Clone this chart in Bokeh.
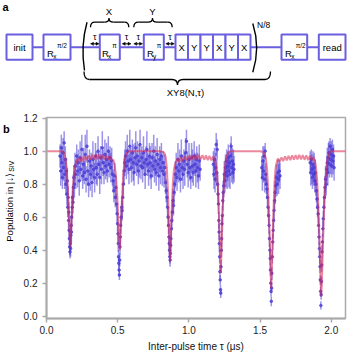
import math
import numpy as np
from bokeh.plotting import figure
from bokeh.layouts import column, row
from bokeh.models import Range1d, Arrow, NormalHead, FixedTicker, PrintfTickFormatter
from bokeh.core.properties import value
from bokeh.embed import file_html
from bokeh.resources import INLINE

# ---------------- data ----------------
x_ticks = [0.0, 0.5, 1.0, 1.5, 2.0]
y_ticks = [0.0, 0.2, 0.4, 0.6, 0.8, 1.0, 1.2]

# measured points, region around dips 1 and 2
tau_r1 = [0.095, 0.100, 0.104, 0.108, 0.112, 0.116, 0.120, 0.124, 0.128, 0.132, 0.136, 0.140,
          0.143, 0.146, 0.149, 0.152, 0.155, 0.157, 0.159, 0.161, 0.163, 0.165,
          0.167, 0.169, 0.171, 0.173, 0.175, 0.177, 0.180, 0.183, 0.186, 0.189, 0.192, 0.196,
          0.200, 0.206, 0.212, 0.218, 0.224, 0.230, 0.236, 0.242, 0.248, 0.254,
          0.260, 0.266, 0.272, 0.278, 0.284, 0.290, 0.296, 0.302, 0.308, 0.314,
          0.320, 0.326, 0.332, 0.338, 0.344, 0.350, 0.356, 0.362, 0.368, 0.374,
          0.380, 0.386, 0.392, 0.398, 0.404, 0.410, 0.416, 0.422, 0.428, 0.434,
          0.440, 0.446, 0.452, 0.458, 0.463,
          0.468, 0.473, 0.478, 0.483, 0.488, 0.492, 0.496, 0.499, 0.502, 0.504,
          0.506, 0.508, 0.510, 0.512, 0.514, 0.516, 0.518, 0.521, 0.524, 0.528,
          0.532, 0.536, 0.540, 0.545, 0.550, 0.555]
pop_r1 = [0.97, 0.88, 1.02, 0.93, 0.84, 0.99, 0.90, 1.05, 0.86, 0.95, 0.80, 0.88,
          0.74, 0.82, 0.66, 0.72, 0.58, 0.63, 0.52, 0.47, 0.42, 0.39,
          0.44, 0.41, 0.49, 0.55, 0.51, 0.60, 0.66, 0.72, 0.69, 0.78, 0.84, 0.80,
          0.91, 0.86, 0.97, 0.88, 0.93, 0.82, 0.96, 0.89, 1.01, 0.85,
          0.92, 0.87, 0.98, 0.83, 1.03, 0.88, 0.80, 0.94, 0.86, 0.91,
          0.81, 0.95, 0.89, 0.84, 0.97, 0.90, 0.86, 1.00, 0.92, 0.84,
          0.96, 0.89, 1.02, 0.93, 0.87, 0.98, 0.91, 0.95, 0.88, 1.00,
          0.92, 0.96, 0.90, 0.94, 0.86,
          0.82, 0.76, 0.85, 0.72, 0.78, 0.68, 0.62, 0.56, 0.50, 0.44,
          0.36, 0.32, 0.28, 0.25, 0.34, 0.42, 0.48, 0.55, 0.60, 0.66,
          0.64, 0.72, 0.80, 0.88, 0.93, 0.97]
err_r1 = [0.07, 0.09, 0.08, 0.10, 0.07, 0.09, 0.08, 0.07, 0.09, 0.08, 0.07, 0.08,
          0.07, 0.08, 0.06, 0.07, 0.06, 0.06, 0.05, 0.05, 0.05, 0.04,
          0.05, 0.05, 0.05, 0.06, 0.06, 0.06, 0.07, 0.07, 0.07, 0.08, 0.07, 0.08,
          0.08, 0.09, 0.07, 0.10, 0.08, 0.09, 0.10, 0.07, 0.09, 0.08,
          0.10, 0.07, 0.12, 0.08, 0.10, 0.09, 0.08, 0.07, 0.10, 0.08,
          0.09, 0.11, 0.07, 0.09, 0.08, 0.10, 0.07, 0.09, 0.08, 0.10,
          0.07, 0.09, 0.10, 0.08, 0.07, 0.09, 0.08, 0.10, 0.07, 0.09,
          0.08, 0.07, 0.09, 0.08, 0.07,
          0.07, 0.07, 0.08, 0.06, 0.07, 0.06, 0.06, 0.05, 0.05, 0.05,
          0.04, 0.04, 0.04, 0.03, 0.04, 0.05, 0.05, 0.05, 0.06, 0.06,
          0.06, 0.07, 0.07, 0.08, 0.08, 0.09]

# region around dip 3
tau_r2 = [0.561, 0.567, 0.573, 0.579, 0.585, 0.591, 0.597, 0.603, 0.609, 0.615,
          0.621, 0.627, 0.633, 0.639, 0.645, 0.651, 0.657, 0.663, 0.669, 0.675,
          0.681, 0.687, 0.693, 0.699, 0.705, 0.711, 0.717, 0.723, 0.729, 0.735,
          0.741, 0.747, 0.753, 0.759, 0.765, 0.771, 0.777, 0.783, 0.789, 0.795,
          0.801, 0.807, 0.813, 0.819, 0.825,
          0.831, 0.836, 0.841, 0.846, 0.850, 0.854, 0.857, 0.860, 0.862, 0.864,
          0.866, 0.868, 0.870, 0.872, 0.874, 0.877, 0.880, 0.884, 0.888, 0.892,
          0.896, 0.900, 0.905,
          0.911, 0.917, 0.923, 0.929, 0.935, 0.941, 0.947, 0.953, 0.959, 0.965,
          0.971, 0.977, 0.983, 0.989, 0.995, 1.001, 1.007, 1.013, 1.019, 1.025,
          1.031, 1.037, 1.043, 1.049, 1.055, 1.061, 1.067, 1.073, 1.079]
pop_r2 = [0.91, 1.00, 0.94, 0.89, 1.03, 0.95, 0.90, 0.99, 0.93, 0.87,
          0.96, 1.02, 0.92, 0.97, 0.88, 0.94, 1.04, 0.91, 0.96, 0.90,
          0.99, 0.93, 0.86, 0.95, 1.01, 0.92, 0.88, 0.97, 0.93, 0.85,
          0.96, 0.91, 1.00, 0.89, 0.94, 0.87, 0.98, 0.92, 0.85, 0.95,
          0.90, 0.97, 0.88, 0.93, 0.86,
          0.90, 0.81, 0.76, 0.72, 0.66, 0.60, 0.55, 0.48, 0.44, 0.40,
          0.36, 0.34, 0.38, 0.43, 0.47, 0.53, 0.58, 0.63, 0.70, 0.67,
          0.75, 0.80, 0.86,
          0.90, 0.84, 0.95, 0.88, 0.92, 0.83, 0.97, 0.90, 0.86, 0.94,
          0.89, 0.99, 1.06, 0.92, 0.87, 0.95, 0.90, 0.84, 0.96, 0.91,
          0.87, 0.97, 0.92, 0.88, 0.95, 0.90, 0.85, 0.94, 0.89]
err_r2 = [0.08, 0.10, 0.08, 0.09, 0.10, 0.07, 0.09, 0.08, 0.11, 0.08,
          0.09, 0.10, 0.07, 0.09, 0.08, 0.10, 0.09, 0.08, 0.07, 0.09,
          0.10, 0.08, 0.09, 0.08, 0.11, 0.07, 0.09, 0.08, 0.10, 0.08,
          0.09, 0.07, 0.10, 0.08, 0.09, 0.08, 0.10, 0.07, 0.09, 0.08,
          0.10, 0.08, 0.09, 0.07, 0.08,
          0.08, 0.07, 0.07, 0.06, 0.06, 0.06, 0.05, 0.05, 0.05, 0.04,
          0.04, 0.04, 0.04, 0.05, 0.05, 0.05, 0.06, 0.06, 0.07, 0.06,
          0.07, 0.07, 0.08,
          0.09, 0.08, 0.10, 0.07, 0.09, 0.08, 0.10, 0.08, 0.09, 0.07,
          0.10, 0.09, 0.07, 0.08, 0.09, 0.10, 0.08, 0.07, 0.09, 0.10,
          0.08, 0.09, 0.07, 0.10, 0.08, 0.09, 0.08, 0.10, 0.07]

# region around dip 4
tau_r3 = [1.172, 1.176, 1.180, 1.184, 1.188, 1.192, 1.196, 1.199, 1.202, 1.205,
          1.208, 1.210, 1.212, 1.214, 1.216, 1.218, 1.220, 1.222, 1.224, 1.226,
          1.228, 1.230, 1.232, 1.235, 1.238, 1.241, 1.245, 1.249, 1.253, 1.257,
          1.261, 1.265, 1.269, 1.273, 1.277, 1.281, 1.285, 1.289, 1.293, 1.297,
          1.301, 1.305, 1.309, 1.313, 1.317]
pop_r3 = [0.92, 0.86, 0.95, 0.83, 0.90, 1.04, 0.87, 1.01, 0.80, 0.74,
          0.68, 0.58, 0.51, 0.44, 0.36, 0.27, 0.22, 0.16, 0.14, 0.30,
          0.40, 0.47, 0.56, 0.61, 0.70, 0.75, 0.79, 0.86, 0.82, 0.90,
          0.87, 0.94, 0.85, 0.91, 0.96, 0.88, 0.93, 0.86, 0.97, 1.03,
          0.90, 0.94, 0.87, 0.92, 0.89]
err_r3 = [0.08, 0.09, 0.07, 0.08, 0.09, 0.07, 0.08, 0.06, 0.07, 0.06,
          0.06, 0.05, 0.05, 0.05, 0.04, 0.04, 0.03, 0.03, 0.03, 0.04,
          0.04, 0.05, 0.05, 0.06, 0.06, 0.07, 0.07, 0.08, 0.07, 0.08,
          0.09, 0.07, 0.08, 0.09, 0.08, 0.10, 0.07, 0.09, 0.08, 0.06,
          0.09, 0.08, 0.07, 0.09, 0.08]

# region around dip 5
tau_r4 = [1.512, 1.516, 1.520, 1.524, 1.528, 1.532, 1.536, 1.540, 1.544, 1.548,
          1.552, 1.556, 1.560, 1.563, 1.566, 1.569, 1.571, 1.573, 1.575, 1.577,
          1.579, 1.581, 1.583, 1.586, 1.589, 1.592, 1.595, 1.598, 1.602, 1.606,
          1.610, 1.615, 1.620, 1.625, 1.630, 1.635, 1.640]
pop_r4 = [0.90, 0.84, 0.94, 0.88, 0.97, 0.83, 1.00, 0.86, 0.80, 0.77,
          0.72, 0.66, 0.61, 0.55, 0.47, 0.40, 0.35, 0.28, 0.20, 0.15,
          0.09, 0.17, 0.26, 0.36, 0.45, 0.52, 0.58, 0.64, 0.70, 0.75,
          0.79, 0.84, 0.80, 0.87, 0.83, 0.88, 0.85]
err_r4 = [0.07, 0.08, 0.09, 0.07, 0.06, 0.08, 0.05, 0.07, 0.06, 0.06,
          0.06, 0.06, 0.05, 0.05, 0.05, 0.04, 0.04, 0.04, 0.03, 0.03,
          0.03, 0.03, 0.04, 0.04, 0.05, 0.05, 0.05, 0.06, 0.06, 0.07,
          0.07, 0.08, 0.07, 0.08, 0.09, 0.07, 0.08]

# region around dip 6
tau_r5 = [1.852, 1.856, 1.860, 1.864, 1.868, 1.872, 1.876, 1.880, 1.884, 1.888,
          1.892, 1.896, 1.900, 1.904, 1.908, 1.911, 1.914, 1.917, 1.919, 1.921,
          1.923, 1.925, 1.927, 1.929, 1.931, 1.933, 1.935, 1.938, 1.941, 1.944,
          1.948, 1.952, 1.956, 1.960, 1.964, 1.968, 1.972, 1.976, 1.980, 1.984,
          1.988, 1.992, 1.996, 2.000, 2.004, 2.008, 2.012, 2.016, 2.020]
pop_r5 = [0.93, 0.87, 0.95, 0.89, 0.84, 0.92, 0.86, 0.90, 0.82, 0.87,
          0.80, 0.76, 0.71, 0.66, 0.62, 0.55, 0.48, 0.41, 0.36, 0.30,
          0.22, 0.15, 0.065, 0.13, 0.21, 0.31, 0.39, 0.45, 0.53, 0.59,
          0.66, 0.72, 0.78, 0.83, 0.80, 0.89, 0.93, 0.87, 0.96, 0.99,
          0.92, 1.03, 0.95, 0.98, 0.91, 1.01, 0.94, 0.97, 0.90]
err_r5 = [0.07, 0.08, 0.06, 0.09, 0.07, 0.08, 0.07, 0.09, 0.07, 0.08,
          0.07, 0.07, 0.06, 0.06, 0.06, 0.05, 0.05, 0.04, 0.04, 0.04,
          0.03, 0.03, 0.025, 0.03, 0.03, 0.04, 0.04, 0.05, 0.05, 0.05,
          0.06, 0.07, 0.07, 0.08, 0.07, 0.08, 0.09, 0.08, 0.09, 0.07,
          0.08, 0.05, 0.09, 0.08, 0.07, 0.06, 0.08, 0.07, 0.08]

# simulated curve
tau_fit = [0.000, 0.090, 0.110, 0.122, 0.132, 0.142, 0.150, 0.156, 0.161, 0.165,
           0.168, 0.171, 0.175, 0.180, 0.186, 0.193, 0.200, 0.208,
           0.2200, 0.2325, 0.2450, 0.2575, 0.2700, 0.2825, 0.2950, 0.3075, 0.3200, 0.3325,
           0.3450, 0.3575, 0.3700, 0.3825, 0.3950, 0.4075, 0.4200, 0.4325, 0.4450, 0.4575,
           0.468, 0.478, 0.487, 0.495, 0.502, 0.508, 0.512, 0.515, 0.518, 0.522,
           0.527, 0.533, 0.540, 0.548, 0.556, 0.565, 0.580,
           0.800, 0.820, 0.830, 0.838, 0.845, 0.851, 0.856, 0.860, 0.864, 0.868,
           0.872, 0.876, 0.881, 0.887, 0.894, 0.902, 0.910,
           0.9200, 0.9325, 0.9450, 0.9575, 0.9700, 0.9825, 0.9950, 1.0075, 1.0200, 1.0325,
           1.0450, 1.0575, 1.0700, 1.0825, 1.0950, 1.1075, 1.1200, 1.1325, 1.1450, 1.1575, 1.1700,
           1.180, 1.190, 1.198, 1.205, 1.211, 1.216, 1.220, 1.224, 1.228, 1.232,
           1.237, 1.243, 1.250, 1.258, 1.267, 1.278, 1.290,
           1.500, 1.520, 1.530, 1.540, 1.548, 1.555, 1.561, 1.566, 1.570, 1.574,
           1.578, 1.582, 1.586, 1.590, 1.595, 1.601, 1.608, 1.616,
           1.6250, 1.6375, 1.6500, 1.6625, 1.6750, 1.6875, 1.7000, 1.7125, 1.7250, 1.7375,
           1.7500, 1.7625, 1.7750, 1.7875, 1.8000, 1.8125, 1.8250, 1.8375, 1.8500, 1.8625, 1.8750,
           1.884, 1.892, 1.900, 1.907, 1.913, 1.918, 1.922, 1.926, 1.930, 1.934,
           1.938, 1.942, 1.947, 1.953, 1.960, 1.968, 1.977, 1.988, 2.000, 2.100]
pop_fit = [1.0, 1.0, 0.998, 0.99, 0.96, 0.89, 0.78, 0.66, 0.54, 0.45,
           0.42, 0.46, 0.55, 0.67, 0.78, 0.86, 0.91, 0.93,
           0.955, 0.935, 0.965, 0.940, 0.970, 0.945, 0.975, 0.948, 0.978, 0.950,
           0.980, 0.952, 0.980, 0.952, 0.978, 0.950, 0.975, 0.948, 0.970, 0.945,
           0.95, 0.92, 0.86, 0.76, 0.64, 0.52, 0.44, 0.40, 0.44, 0.52,
           0.64, 0.76, 0.87, 0.94, 0.975, 0.99, 1.0,
           1.0, 0.995, 0.985, 0.96, 0.90, 0.80, 0.68, 0.56, 0.43, 0.33,
           0.43, 0.56, 0.68, 0.80, 0.88, 0.92, 0.935,
           0.955, 0.935, 0.962, 0.940, 0.968, 0.944, 0.972, 0.946, 0.975, 0.948,
           0.976, 0.950, 0.977, 0.950, 0.976, 0.948, 0.974, 0.946, 0.972, 0.944, 0.968,
           0.95, 0.92, 0.86, 0.76, 0.62, 0.48, 0.36, 0.26, 0.36, 0.48,
           0.62, 0.76, 0.87, 0.94, 0.975, 0.99, 1.0,
           1.0, 0.995, 0.985, 0.96, 0.90, 0.80, 0.66, 0.52, 0.39, 0.27,
           0.17, 0.27, 0.39, 0.52, 0.66, 0.80, 0.89, 0.93,
           0.955, 0.935, 0.962, 0.940, 0.968, 0.944, 0.972, 0.946, 0.975, 0.948,
           0.976, 0.950, 0.977, 0.950, 0.976, 0.948, 0.974, 0.946, 0.972, 0.944, 0.965,
           0.945, 0.91, 0.84, 0.72, 0.58, 0.44, 0.32, 0.21, 0.12, 0.21,
           0.32, 0.44, 0.58, 0.72, 0.84, 0.92, 0.965, 0.99, 1.0, 1.0]

# ---------------- styling ----------------
FONT = "Liberation Sans"
BLUE = "#4a3cd6"
BOX = "#6a5fe0"
RED = "#dc2850"
GREY = "#aaaaaa"


def txt(fig, xs, ys, texts, size, align="center", baseline="middle", style="normal", angle=0.0):
    fig.text(x=xs, y=ys, text=texts, text_font=value(FONT), text_font_size=size,
             text_align=align, text_baseline=baseline, text_font_style=style,
             text_color="black", angle=angle)


# ---------------- panel a : pulse sequence (drawn in page pixels) ----------------
pa = figure(width=350, height=108, x_range=Range1d(0, 350), y_range=Range1d(108, 0),
            output_backend="svg", toolbar_location=None,
            x_axis_location=None, y_axis_location=None, min_border=0)
pa.outline_line_color = None
pa.grid.visible = False

LY = 46.7
pa.segment(x0=[32], y0=[LY], x1=[318.3], y1=[LY], line_color=BOX, line_width=2)
b_left = [6, 43, 99.3, 143.3, 175, 187.5, 200, 212.5, 225, 237.5, 281, 318.3]
b_right = [32, 70, 119.3, 163.3, 187.5, 200, 212.5, 225, 237.5, 250, 306.7, 345]
pa.quad(left=b_left, right=b_right, top=[34] * len(b_left), bottom=[59.3] * len(b_left),
        fill_color="white", line_color=BOX, line_width=2)

txt(pa, [19, 331.7], [47, 47], ["init", "read"], "9.5px")
txt(pa, [181.25, 193.75, 206.25, 218.75, 231.25, 243.75], [47] * 6,
    ["X", "Y", "Y", "X", "Y", "X"], "9.5px")
txt(pa, [46.5, 101.5, 146.5, 284.5], [53.3] * 4, ["R", "R", "R", "R"], "9.5px",
    align="left", baseline="alphabetic")
txt(pa, [52.8, 107.6, 152.4, 290.8], [56.3] * 4, ["x", "x", "y", "x"], "6.5px",
    align="left", baseline="alphabetic")
txt(pa, [56.5, 111.8, 156.2, 295.3], [44.8] * 4, ["π/2", "π", "π", "π/2"], "6.5px",
    align="left", baseline="alphabetic")

# tau arrows
for x0, x1 in [(90, 98.5), (121.7, 130.5), (133.3, 142), (165.3, 173.8)]:
    pa.add_layout(Arrow(start=NormalHead(size=3, fill_color="black", line_color="black", line_width=0.5),
                        end=NormalHead(size=3, fill_color="black", line_color="black", line_width=0.5),
                        x_start=x0, y_start=43.3, x_end=x1, y_end=43.3,
                        line_color="black", line_width=1))
txt(pa, [94.3, 126.0, 137.7, 169.5], [36.3] * 4, ["τ"] * 4, "9px")


def brace(fig, x0, x1, xc, yend, ymid, ytip, r):
    fig.quadratic(x0=[x0, xc - r, xc, x1 - r], y0=[yend, ymid, ytip, ymid],
                  x1=[x0 + r, xc, xc + r, x1], y1=[ymid, ytip, ymid, yend],
                  cx=[x0, xc, xc, x1], cy=[ymid, ymid, ymid, ymid],
                  line_color="black", line_width=1.3)
    fig.segment(x0=[x0 + r, xc + r], y0=[ymid, ymid], x1=[xc - r, x1 - r], y1=[ymid, ymid],
                line_color="black", line_width=1.3)


brace(pa, 90, 128.3, 108.5, 26.7, 21.7, 17.8, 4.5)
brace(pa, 133.3, 171.7, 152.0, 26.7, 21.7, 17.8, 4.5)
brace(pa, 83.5, 270, 177, 71.0, 79.0, 84.5, 5.5)
txt(pa, [108.3, 152.0], [10.5, 10.5], ["X", "Y"], "9.5px")
txt(pa, [185.0], [92.0], ["XY8(N,τ)"], "9.5px")

pa.quadratic(x0=[86.5, 252.3], y0=[21.7, 23.0], x1=[84.0, 252.3], y1=[70.0, 71.7],
             cx=[80.0, 260.0], cy=[45.0, 47.3], line_color="black", line_width=1.4)
txt(pa, [256.5], [24.0], ["N/8"], "8.5px", align="left")
txt(pa, [2.0], [6.8], ["a"], "11px", align="left", style="bold")

# ---------------- panel b : y label strip ----------------
H_B = 254
pl = figure(width=20, height=H_B, x_range=Range1d(0, 20), y_range=Range1d(0, H_B),
            output_backend="svg", toolbar_location=None,
            x_axis_location=None, y_axis_location=None, min_border=0)
pl.outline_line_color = None
pl.grid.visible = False
# y measured upward from the bottom of the strip (page y = 362 - y)
txt(pl, [2.5], [362 - 122.3], ["b"], "11px", align="left", baseline="alphabetic", style="bold")
txt(pl, [8.5], [362 - 265], ["Population in |↓⟩"], "9.5px", align="left", angle=math.pi / 2)
txt(pl, [11.0], [362 - 176.5], ["SiV"], "7px", align="left", angle=math.pi / 2)

# ---------------- panel b : data ----------------
pb = figure(width=330, height=H_B, x_range=Range1d(0, 2.1), y_range=Range1d(-0.014, 1.204),
            output_backend="svg", toolbar_location=None,
            min_border_left=25, min_border_right=5, min_border_top=9, min_border_bottom=44)
pb.grid.visible = False
pb.outline_line_color = GREY
pb.outline_line_width = 1.5
pb.xaxis.ticker = FixedTicker(ticks=x_ticks)
pb.yaxis.ticker = FixedTicker(ticks=y_ticks)
pb.xaxis.formatter = PrintfTickFormatter(format="%.1f")
pb.yaxis.formatter = PrintfTickFormatter(format="%.1f")
pb.axis.axis_line_color = GREY
pb.axis.axis_line_width = 2
pb.axis.major_tick_line_color = GREY
pb.axis.major_tick_line_width = 1.5
pb.axis.major_tick_out = 4
pb.axis.major_tick_in = 0
pb.axis.minor_tick_line_color = None
pb.axis.major_label_text_font = FONT
pb.axis.major_label_text_font_size = "10px"
pb.axis.major_label_text_color = "#222222"
pb.xaxis.major_label_standoff = 3
pb.yaxis.major_label_standoff = 5
pb.xaxis.axis_label = "Inter-pulse time τ (μs)"
pb.xaxis.axis_label_text_font = FONT
pb.xaxis.axis_label_text_font_size = "10px"
pb.xaxis.axis_label_text_font_style = "normal"
pb.xaxis.axis_label_text_color = "#111111"
pb.xaxis.axis_label_standoff = 4

tau_all = np.array(tau_r1 + tau_r2 + tau_r3 + tau_r4 + tau_r5)
pop_all = np.array(pop_r1 + pop_r2 + pop_r3 + pop_r4 + pop_r5)
err_all = np.array(err_r1 + err_r2 + err_r3 + err_r4 + err_r5)

pb.segment(x0=tau_all, y0=pop_all - err_all, x1=tau_all, y1=pop_all + err_all,
           line_color=BLUE, line_alpha=0.55, line_width=1.5)
pb.scatter(tau_all, pop_all, size=2.6, fill_color=BLUE, line_color=BLUE, alpha=0.75)
pb.line(tau_fit, pop_fit, line_color=RED, line_alpha=0.55, line_width=2)

layout = column(pa, row(pl, pb))
with open("out.html", "w") as f:
    f.write(file_html(layout, INLINE))
